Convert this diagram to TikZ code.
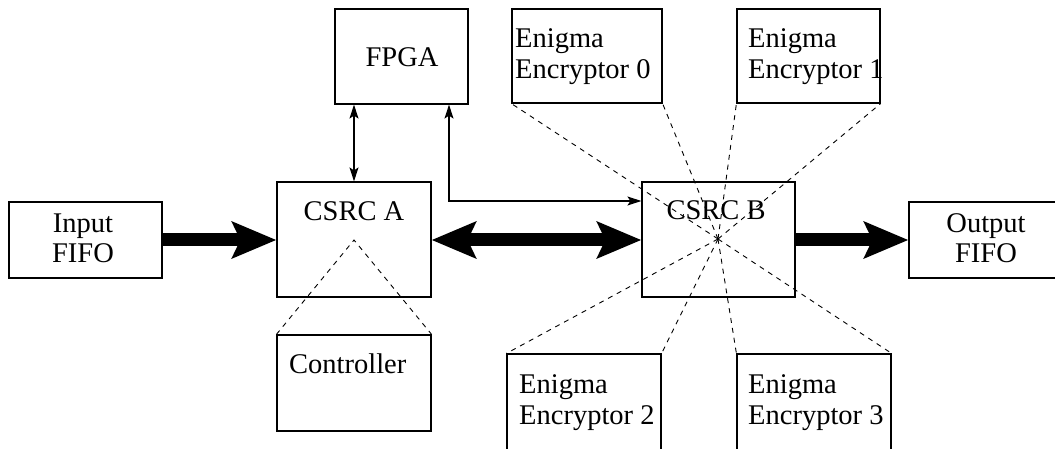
\documentclass[tikz,border=0pt]{standalone}
\usepackage{fontspec}
\setmainfont{Liberation Serif}
\usetikzlibrary{arrows.meta}
\begin{document}
\begin{tikzpicture}[x=1pt,y=-1pt,
  box/.style={draw,line width=1.2pt,rectangle,inner sep=0pt},
  txt/.style={inner sep=0pt,font=\fontsize{28.5}{32}\selectfont},
  fat/.style={line width=13pt,-{Stealth[length=44pt,width=36pt,inset=8pt]}},
  fatboth/.style={line width=13pt,{Stealth[length=44pt,width=36pt,inset=8pt]}-{Stealth[length=44pt,width=36pt,inset=8pt]}},
  thin/.style={line width=1.2pt,{Stealth[length=14pt,width=9pt,inset=3pt]}-{Stealth[length=14pt,width=9pt,inset=3pt]}},
  dashline/.style={dash pattern=on 5pt off 5pt,line width=0.9pt}]
\useasboundingbox (0,0) rectangle (1055,449);
\clip (0,0) rectangle (1055,449);
% boxes
\node[box,minimum width=153pt,minimum height=76pt] (inF) at (85.5,240) {};
\node[box,minimum width=154pt,minimum height=115pt] (csrcA) at (354,239.5) {};
\node[box,minimum width=133pt,minimum height=95pt] (fpga) at (401.5,56.5) {};
\node[box,minimum width=153pt,minimum height=115pt] (csrcB) at (718.5,239.5) {};
\node[box,minimum width=153pt,minimum height=76pt] (outF) at (985.5,240) {};
\node[box,minimum width=150pt,minimum height=94pt] (e0) at (587,56) {};
\node[box,minimum width=143pt,minimum height=94pt] (e1) at (808.5,56) {};
\node[box,minimum width=154pt,minimum height=110pt] (e2) at (584,409) {};
\node[box,minimum width=154pt,minimum height=110pt] (e3) at (814,409) {};
\node[box,minimum width=154pt,minimum height=96pt] (ctrl) at (354,383) {};
% texts
\node[txt,anchor=base] (inT1) at (83,233) {Input};
\node[txt,anchor=base] (inT2) at (83,262) {FIFO};
\node[txt,anchor=base] (outT1) at (986,233) {Output};
\node[txt,anchor=base] (outT2) at (986,262) {FIFO};
\node[txt,anchor=base] (aT) at (354,221) {CSRC A};
\node[txt,anchor=base] (bT) at (716,220) {CSRC B};
\node[txt,anchor=base] (fT) at (402,67) {FPGA};
\node[txt,anchor=base west] (cT) at (289,373) {Controller};
\node[txt,anchor=base west] (e0a) at (515,48) {Enigma};
\node[txt,anchor=base west] (e0b) at (515,79) {Encryptor 0};
\node[txt,anchor=base west] (e1a) at (748,48) {Enigma};
\node[txt,anchor=base west] (e1b) at (748,79) {Encryptor 1};
\node[txt,anchor=base west] (e2a) at (519,393) {Enigma};
\node[txt,anchor=base west] (e2b) at (519,424) {Encryptor 2};
\node[txt,anchor=base west] (e3a) at (748,393) {Enigma};
\node[txt,anchor=base west] (e3b) at (748,424) {Encryptor 3};
% thick arrows
\draw[fat] (inF.east) -- (csrcA.west |- inF.east);
\draw[fatboth] (csrcA.east |- 0,240) -- (csrcB.west |- 0,240);
\draw[fat] (csrcB.east |- outF.west) -- (outF.west);
% thin arrows
\draw[thin] (fpga.south -| csrcA.north) -- (csrcA.north);
\coordinate (bend) at (449,201);
\draw[thin] (fpga.south -| bend) -- (bend) -- (bend -| csrcB.west);
% dashed
\coordinate (apexA) at (354,240);
\draw[dashline] (ctrl.north west) -- (apexA) -- (ctrl.north east);
\coordinate (hub) at (718,239);
\foreach \c in {e0.south west,e0.south east,e1.south west,e1.south east,e2.north west,e2.north east,e3.north west,e3.north east}
  \draw[dashline] (hub) -- (\c);
\end{tikzpicture}
\end{document}
